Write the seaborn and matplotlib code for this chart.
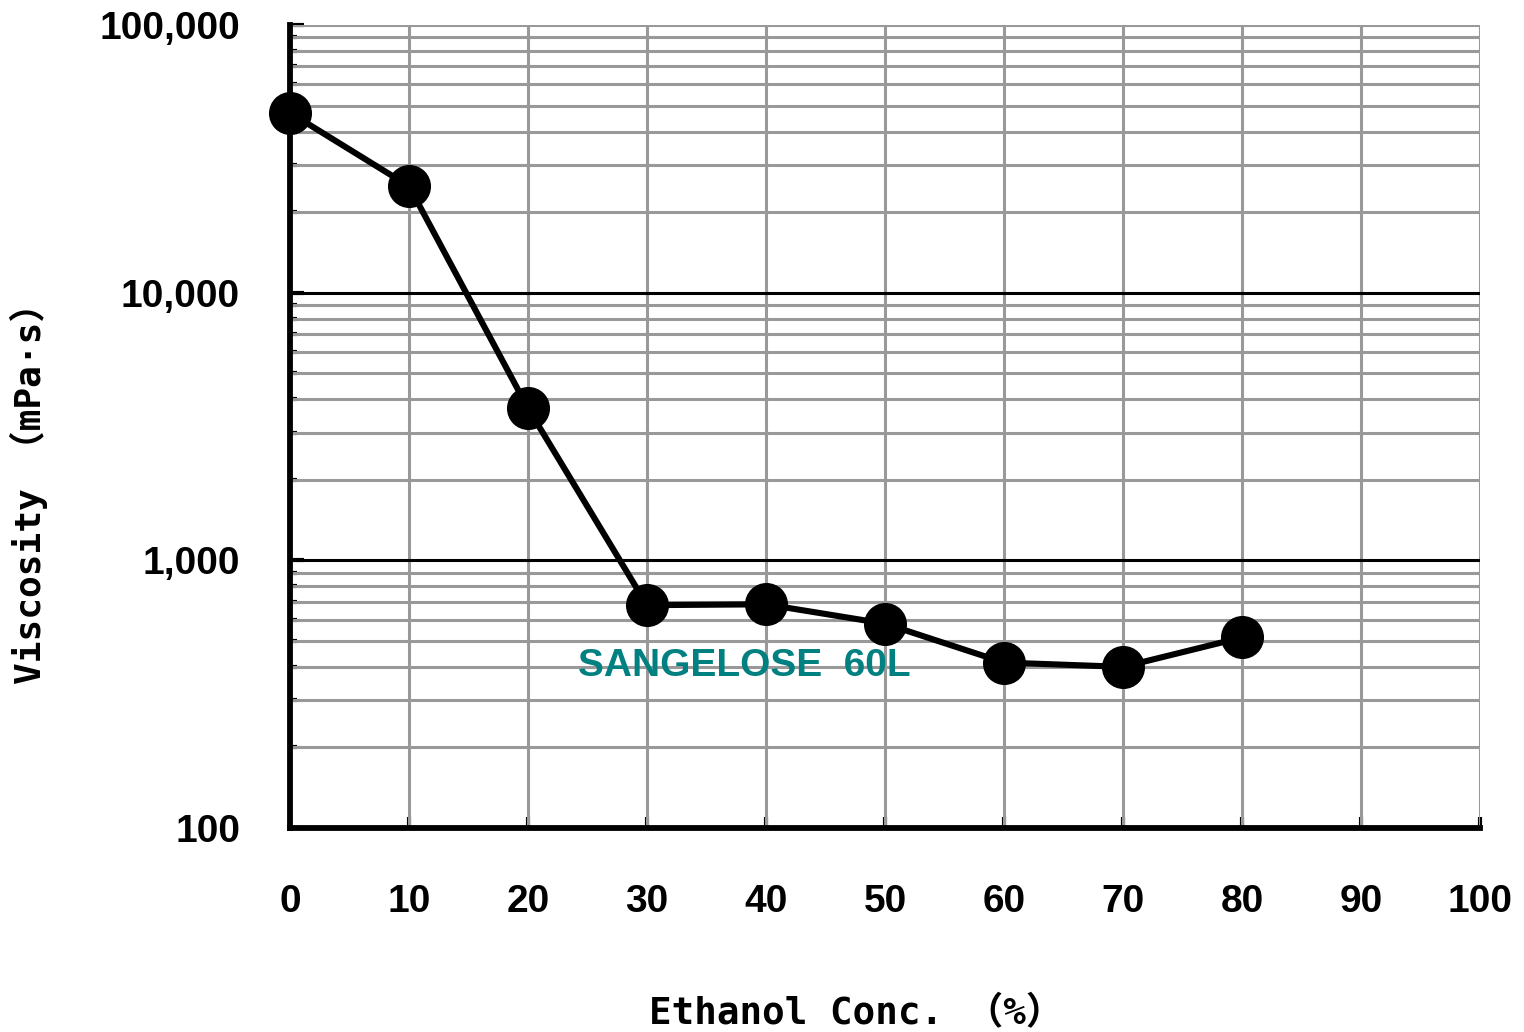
import numpy as np
import pandas as pd
import matplotlib
matplotlib.use("Agg")
import matplotlib.pyplot as plt
from matplotlib.ticker import FixedLocator, NullFormatter, LogLocator
import seaborn as sns

# Viscosity of SANGELOSE 60L vs ethanol concentration
ethanol_pct = [0, 10, 20, 30, 40, 50, 60, 70, 80]
viscosity_mpas = [47000, 25000, 3700, 680, 685, 580, 415, 400, 515]

x_ticks = [0, 10, 20, 30, 40, 50, 60, 70, 80, 90, 100]
y_ticks = [100, 1000, 10000, 100000]
y_tick_labels = ["100", "1,000", "10,000", "100,000"]

series_label = "SANGELOSE  60L"
x_title = "Ethanol Conc. （%）"
y_title = "Viscosity （mPa·s）"

sns.set_style("white")
plt.rcParams["font.family"] = ["Liberation Sans", "DejaVu Sans"]
plt.rcParams["text.color"] = "black"
plt.rcParams["axes.labelcolor"] = "black"

df = pd.DataFrame({"ethanol": ethanol_pct, "viscosity": viscosity_mpas})

fig = plt.figure(figsize=(15.24, 10.32), dpi=100)
ax = fig.add_axes([290 / 1524, 1 - 828 / 1032, 1190 / 1524, 803 / 1032])

ax.set_yscale("log")
ax.set_xlim(0, 100)
ax.set_ylim(100, 100000)

# grid: grey minor rows and vertical columns, black decade rows
grey = "#999999"
for yv in [v * d for d in (100, 1000, 10000) for v in range(2, 10)]:
    ax.axhline(yv, color=grey, lw=2.2, zorder=1)
ax.axhline(100000, color=grey, lw=2.2, zorder=1)
for yv in (1000, 10000):
    ax.axhline(yv, color="black", lw=2.2, zorder=1.5)
for xv in x_ticks[1:]:
    ax.axvline(xv, color=grey, lw=2.2, zorder=1)

sns.lineplot(data=df, x="ethanol", y="viscosity", ax=ax, color="black",
             linewidth=4.4, marker="o", markersize=31, markeredgewidth=0,
             markerfacecolor="black", zorder=5, clip_on=False)

ax.text(24.2, 403, series_label, color="#008080", fontsize=28,
        fontweight="bold", ha="left", va="center", zorder=6)

for side in ("top", "right"):
    ax.spines[side].set_visible(False)
for side in ("left", "bottom"):
    ax.spines[side].set_linewidth(4.2)
    ax.spines[side].set_color("black")
    ax.spines[side].set_zorder(7)

ax.xaxis.set_major_locator(FixedLocator(x_ticks))
ax.set_xticklabels([str(v) for v in x_ticks], fontsize=28, fontweight="bold")
ax.tick_params(axis="x", which="major", direction="in", length=8, width=3,
               pad=40, colors="black", bottom=True)

ax.yaxis.set_major_locator(FixedLocator(y_ticks))
ax.set_yticklabels(y_tick_labels, fontsize=28, fontweight="bold")
ax.yaxis.set_minor_locator(LogLocator(base=10, subs=np.arange(2, 10)))
ax.yaxis.set_minor_formatter(NullFormatter())
ax.tick_params(axis="y", which="major", direction="in", length=10, width=3,
               pad=36, colors="black", left=True)
ax.tick_params(axis="y", which="minor", direction="in", length=5, width=3,
               colors="black", left=True)

mono = ["DejaVu Sans Mono", "Noto Sans CJK JP"]
ax.set_xlabel(x_title, fontsize=27, family=mono, fontweight="bold", color="black")
ax.set_ylabel(y_title, fontsize=26, family=mono, fontweight="bold", color="black")
ax.yaxis.set_label_coords(-0.203, 0.427)
ax.xaxis.set_label_coords(0.4756, -0.209)

fig.savefig("out.png", dpi=100)
